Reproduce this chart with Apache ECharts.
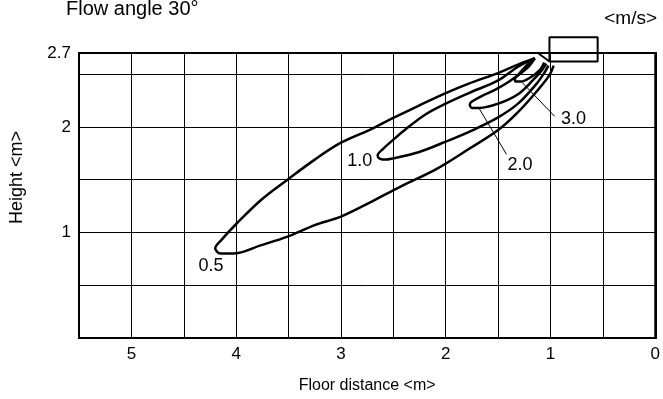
<!DOCTYPE html>
<html>
<head>
<meta charset="utf-8">
<script src="https://cdn.jsdelivr.net/npm/echarts@6/dist/echarts.min.js"></script>
<style>
html,body{margin:0;padding:0;background:#fff;}
#chart{width:663px;height:399px;}
</style>
</head>
<body>
<div id="chart"></div>
<script>
// Floor distance (m) / height (m) points of each velocity contour
var contour05 = [[1.15,2.65],[1.31,2.59],[1.50,2.51],[1.78,2.41],[2.00,2.32],[2.26,2.20],[2.51,2.08],[2.73,1.97],[3.00,1.85],[3.25,1.69],[3.51,1.50],[3.76,1.31],[4.00,1.08],[4.14,0.93],[4.20,0.85],[4.15,0.80],[4.03,0.80],[3.76,0.88],[3.51,0.96],[3.25,1.07],[3.00,1.15],[2.73,1.28],[2.44,1.43],[2.09,1.60],[1.78,1.79],[1.50,1.97],[1.31,2.14],[1.12,2.35],[1.01,2.49],[0.97,2.58]];
var contour10 = [[1.15,2.65],[1.31,2.57],[1.50,2.44],[1.78,2.32],[2.00,2.22],[2.19,2.12],[2.38,1.98],[2.51,1.87],[2.60,1.79],[2.65,1.73],[2.63,1.70],[2.57,1.69],[2.51,1.70],[2.26,1.76],[2.00,1.86],[1.74,1.97],[1.50,2.09],[1.31,2.22],[1.14,2.40],[1.06,2.51],[1.02,2.58]];
var contour20 = [[1.15,2.65],[1.22,2.56],[1.38,2.44],[1.53,2.35],[1.66,2.29],[1.75,2.24],[1.77,2.21],[1.75,2.18],[1.68,2.18],[1.50,2.22],[1.31,2.31],[1.17,2.44],[1.08,2.54],[1.04,2.60]];
var contour30 = [[1.15,2.65],[1.25,2.56],[1.31,2.49],[1.34,2.45],[1.33,2.43],[1.28,2.43],[1.19,2.47],[1.10,2.54],[1.06,2.61]];
// outlet (diffuser) outline
var outletX = [1.01, 0.55, 0.55, 1.01, 1.01, 1.12];
var outletY = [2.62, 2.62, 2.85, 2.85, 2.62, 2.70];
// leader lines for labels
var leader30 = [[1.27,2.42],[0.96,2.10]];
var leader20 = [[1.69,2.19],[1.42,1.74]];
// contour labels: [x, y, text]
var contourLabels = [[4.24,0.68,'0.5'],[2.82,1.68,'1.0'],[1.29,1.64,'2.0'],[0.78,2.07,'3.0']];
var xTickLabels = [0,1,2,3,4,5];
var yTickLabels = [1,2,2.7];

var FONT = '"Liberation Sans", Arial, sans-serif';
var outlet = outletX.map(function(x,i){return [x, outletY[i]];});

function contourSeries(d){
  return {type:'line', data:d, smooth:0.35, symbol:'none', clip:false,
    lineStyle:{color:'#000', width:2.5}, silent:true, z:5};
}
function leaderSeries(d){
  return {type:'line', data:d, symbol:'none', clip:false,
    lineStyle:{color:'#000', width:1}, silent:true, z:4};
}

var chart = echarts.init(document.getElementById('chart'), null, {renderer:'canvas'});
chart.setOption({
  animation:false,
  backgroundColor:'#fff',
  title:[
    {text:'Flow angle 30°', left:61, top:-6, textStyle:{fontFamily:FONT, fontSize:20, fontWeight:'normal', color:'#000'}},
    {text:'<m/s>', right:1, top:4, textStyle:{fontFamily:FONT, fontSize:19, fontWeight:'normal', color:'#000'}}
  ],
  grid:{left:76, right:4, top:53, bottom:60, show:true, borderColor:'#000', borderWidth:2, containLabel:false},
  xAxis:{
    type:'value', inverse:true, min:0, max:5.5, interval:0.5,
    name:'Floor distance <m>', nameLocation:'middle', nameGap:40,
    nameTextStyle:{fontFamily:FONT, fontSize:16, color:'#000'},
    axisLine:{show:true, lineStyle:{color:'#000', width:2}},
    axisTick:{show:false},
    axisLabel:{margin:8, fontFamily:FONT, fontSize:17, color:'#000',
      formatter:function(v){ return xTickLabels.indexOf(Math.round(v*100)/100) >= 0 ? String(v) : ''; }},
    splitLine:{show:true, lineStyle:{color:'#000', width:1}}
  },
  yAxis:{
    type:'value', min:0, max:2.7, interval:0.5,
    name:'Height <m>', nameLocation:'middle', nameGap:53, nameRotate:90,
    nameTextStyle:{fontFamily:FONT, fontSize:18, color:'#000', padding:[0,0,0,36]},
    axisLine:{show:true, lineStyle:{color:'#000', width:2}},
    axisTick:{show:false},
    axisLabel:{margin:8, fontFamily:FONT, fontSize:17, color:'#000',
      formatter:function(v){ return yTickLabels.indexOf(Math.round(v*100)/100) >= 0 ? String(v) : ''; }},
    splitLine:{show:true, lineStyle:{color:'#000', width:1}}
  },
  series:[
    contourSeries(contour05),
    contourSeries(contour10),
    contourSeries(contour20),
    contourSeries(contour30),
    leaderSeries(leader30),
    leaderSeries(leader20),
    {type:'line', data:outlet, symbol:'none', clip:false, lineStyle:{color:'#000', width:2}, silent:true, z:6},
    {type:'scatter', data:contourLabels, symbol:'circle', symbolSize:0, clip:false,
      itemStyle:{color:'#000'}, silent:true, z:7,
      label:{show:true, position:[0,0], align:'center', verticalAlign:'middle',
        fontFamily:FONT, fontSize:18, color:'#000', opacity:1,
        formatter:function(p){ return p.data[2]; }}}
  ]
});
</script>
</body>
</html>
